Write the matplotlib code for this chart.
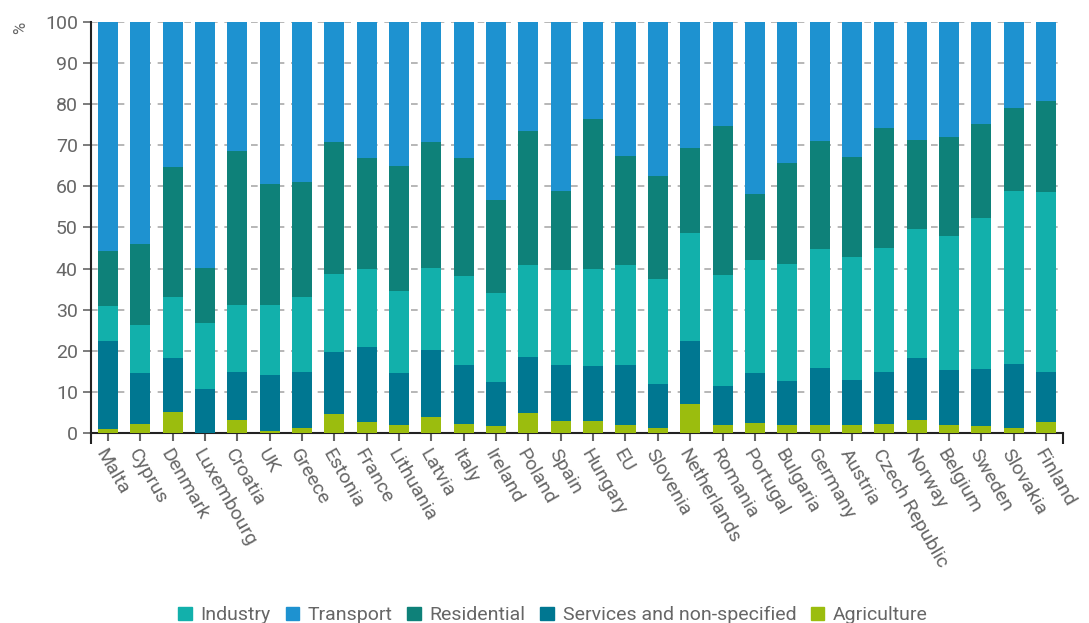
import numpy as np
import matplotlib
matplotlib.use('Agg')
from matplotlib import pyplot as plt
from matplotlib.patches import Patch

plt.rcParams['font.family'] = ['Roboto', 'DejaVu Sans']

countries = ['Malta', 'Cyprus', 'Denmark', 'Luxembourg', 'Croatia', 'UK', 'Greece', 'Estonia',
             'France', 'Lithuania', 'Latvia', 'Italy', 'Ireland', 'Poland', 'Spain', 'Hungary',
             'EU', 'Slovenia', 'Netherlands', 'Romania', 'Portugal', 'Bulgaria', 'Germany',
             'Austria', 'Czech Republic', 'Norway', 'Belgium', 'Sweden', 'Slovakia', 'Finland']

# cumulative tops (%), stack order bottom -> top
agri_top = [1.0, 2.1, 5.2, 0.1, 3.2, 0.5, 1.3, 4.7, 2.7, 1.9, 3.8, 2.1, 1.6, 4.9, 2.9, 2.9,
            1.9, 1.3, 7.1, 1.9, 2.4, 1.9, 1.9, 1.9, 2.2, 3.2, 1.9, 1.6, 1.3, 2.7]
serv_top = [22.5, 14.6, 18.2, 10.7, 14.9, 14.0, 14.9, 19.6, 20.9, 14.5, 20.1, 16.5, 12.3, 18.4,
            16.5, 16.2, 16.5, 11.8, 22.3, 11.5, 14.5, 12.6, 15.9, 13.0, 14.8, 18.2, 15.4, 15.6,
            16.7, 14.8]
ind_top = [30.8, 26.3, 33.0, 26.7, 31.1, 31.1, 33.0, 38.6, 39.9, 34.6, 40.2, 38.1, 34.1, 40.9,
           39.6, 40.0, 40.9, 37.4, 48.7, 38.5, 42.1, 41.2, 44.7, 42.7, 45.1, 49.6, 47.9, 52.4,
           58.9, 58.7]
res_top = [44.3, 46.0, 64.8, 40.2, 68.7, 60.6, 61.1, 70.7, 67.0, 65.0, 70.8, 66.9, 56.7, 73.5,
           58.9, 76.3, 67.5, 62.6, 69.4, 74.6, 58.1, 65.6, 71.1, 67.2, 74.1, 71.3, 71.9, 75.2,
           79.1, 80.7]

agriculture = np.array(agri_top)
services = np.array(serv_top) - np.array(agri_top)
industry = np.array(ind_top) - np.array(serv_top)
residential = np.array(res_top) - np.array(ind_top)
transport = 100 - np.array(res_top)

c_ind = '#12b0ab'
c_tra = '#1e92d0'
c_res = '#0e8179'
c_ser = '#007791'
c_agr = '#9bbd0e'
grey = '#666666'

fig = plt.figure(figsize=(10.89, 6.23), dpi=100)
ax = fig.add_axes([0.0836, 0.305, 0.8924, 0.6597])

x = np.arange(len(countries))
w = 0.62
bottom = np.zeros(len(countries))
for vals, col in [(agriculture, c_agr), (services, c_ser), (industry, c_ind),
                  (residential, c_res), (transport, c_tra)]:
    ax.bar(x, vals, w, bottom=bottom, color=col, zorder=3)
    bottom = bottom + vals

ax.set_xlim(-0.52, len(countries) - 0.48)
ax.set_ylim(0, 100)
ax.set_yticks(np.arange(0, 101, 10))
ax.yaxis.grid(True, linestyle=(0, (4, 4)), color='#aaaaaa', linewidth=1.2, zorder=0)
for s in ['top', 'right']:
    ax.spines[s].set_visible(False)
for s in ['left', 'bottom']:
    ax.spines[s].set_color('#222222')
    ax.spines[s].set_linewidth(1.5)
ax.tick_params(axis='y', labelsize=14, labelcolor=grey, color=grey, length=6, width=1.2)
ax.tick_params(axis='x', labelsize=14, labelcolor=grey, color=grey, length=6, width=1.5)
ax.set_xticks(x)
ax.set_xticklabels(countries, rotation=-60, ha='left', va='top', rotation_mode='anchor')
ax.set_xticks([-0.52, len(countries) - 0.48], minor=True)
ax.tick_params(axis='x', which='minor', length=8, width=1.5, color='#222222')

fig.text(0.012, 0.965, '%', rotation=90, color=grey, fontsize=12, ha='left', va='top')

handles = [Patch(color=c_ind, label='Industry'), Patch(color=c_tra, label='Transport'),
           Patch(color=c_res, label='Residential'),
           Patch(color=c_ser, label='Services and non-specified'),
           Patch(color=c_agr, label='Agriculture')]
leg = fig.legend(handles=handles, loc='lower center', bbox_to_anchor=(0.508, -0.03), ncol=5,
                 frameon=False, fontsize=14, handlelength=0.7, handleheight=0.7,
                 handletextpad=0.45, columnspacing=0.75)
for t in leg.get_texts():
    t.set_color(grey)

plt.savefig('out.png', dpi=100)
